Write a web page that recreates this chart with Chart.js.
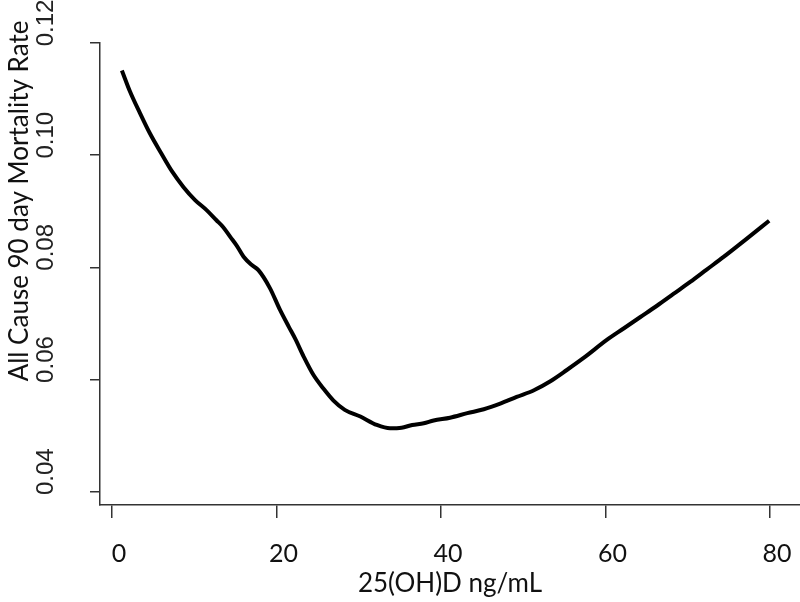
<!DOCTYPE html>
<html><head><meta charset="utf-8">
<script src="https://cdn.jsdelivr.net/npm/chart.js@4.4.1/dist/chart.umd.min.js"></script>
<style>html,body{margin:0;padding:0;background:#fff;} canvas{display:block;}</style>
</head><body>
<canvas id="c" width="800" height="602"></canvas>
<script>
const xValues = [1.2, 2.2, 3.4, 4.6, 6.0, 7.3, 8.7, 10.1, 11.5, 12.7, 13.5, 14.4, 15.2, 16.0, 17.0, 17.8, 19.2, 20.4, 21.5, 22.3, 23.3, 24.5, 25.7, 26.9, 28.3, 30.2, 32.2, 33.8, 35.2, 36.5, 37.9, 39.1, 41.1, 43.2, 45.2, 47.2, 49.2, 51.3, 53.3, 55.3, 57.3, 60.2, 62.2, 64.2, 66.3, 68.3, 70.3, 72.3, 74.4, 77.0, 79.9];
const yValues = [0.1151, 0.1113, 0.1075, 0.1039, 0.1003, 0.0971, 0.0943, 0.0920, 0.0902, 0.0884, 0.0872, 0.0854, 0.0838, 0.0819, 0.0804, 0.0795, 0.0763, 0.0725, 0.0694, 0.0672, 0.0641, 0.0608, 0.0584, 0.0563, 0.0546, 0.0534, 0.0519, 0.0513, 0.0514, 0.0519, 0.0522, 0.0527, 0.0532, 0.0540, 0.0547, 0.0557, 0.0569, 0.0581, 0.0597, 0.0617, 0.0638, 0.0671, 0.0691, 0.0711, 0.0732, 0.0753, 0.0774, 0.0796, 0.0819, 0.0849, 0.0883];
const xTicks = [0, 20, 40, 60, 80];
const yTicks = [0.04, 0.06, 0.08, 0.10, 0.12];
const xTitle = '25(OH)D ng/mL';
const yTitle = 'All Cause 90 day Mortality Rate';

const yTitlePlugin = {
  id: 'yTitle',
  afterDraw(chart) {
    const ctx = chart.ctx;
    ctx.save();
    ctx.translate(20, 201);
    ctx.rotate(-Math.PI / 2);
    ctx.font = '26px Lato';
    ctx.fillStyle = '#111';
    ctx.textAlign = 'center';
    ctx.textBaseline = 'middle';
    ctx.fillText(yTitle, 0, 0);
    ctx.restore();
  }
};

new Chart(document.getElementById('c'), {
  type: 'line',
  data: {
    datasets: [{
      data: xValues.map((x, i) => ({ x: x, y: yValues[i] })),
      borderColor: '#000',
      borderWidth: 4,
      pointRadius: 0,
      tension: 0.3,
      cubicInterpolationMode: 'monotone',
      fill: false
    }]
  },
  options: {
    responsive: false,
    animation: false,
    layout: { padding: { top: 43, right: 0, left: 0, bottom: 0 } },
    plugins: { legend: { display: false }, tooltip: { enabled: false } },
    scales: {
      x: {
        type: 'linear',
        min: -1.46,
        max: 83.65,
        afterBuildTicks: s => { s.ticks = xTicks.map(v => ({ value: v })); },
        afterFit: s => { s.height = 97; s.paddingRight = 0; },
        grid: { drawOnChartArea: false, drawTicks: true, tickLength: 13, color: '#333', lineWidth: 1.5 },
        border: { display: true, color: '#333', width: 1.5 },
        ticks: { font: { family: 'Lato', size: 25 }, color: '#111', padding: 21, labelOffset: 7, maxRotation: 0, minRotation: 0, autoSkip: false },
        title: { display: true, text: xTitle, font: { family: 'Lato', size: 26 }, color: '#111', padding: { top: 3, bottom: 3 } }
      },
      y: {
        type: 'linear',
        min: 0.03763,
        max: 0.12,
        afterBuildTicks: s => { s.ticks = yTicks.map(v => ({ value: v })); },
        afterFit: s => { s.width = 100; },
        grid: { drawOnChartArea: false, drawTicks: true, tickLength: 10, color: '#333', lineWidth: 1.5 },
        border: { display: true, color: '#333', width: 1.5 },
        ticks: {
          font: { family: 'Liberation Sans', size: 24 }, color: '#222',
          padding: 20, labelOffset: -20, minRotation: 90, maxRotation: 90, crossAlign: 'center', autoSkip: false,
          callback: v => v.toFixed(2)
        }
      }
    }
  },
  plugins: [yTitlePlugin]
});
</script>
</body></html>
